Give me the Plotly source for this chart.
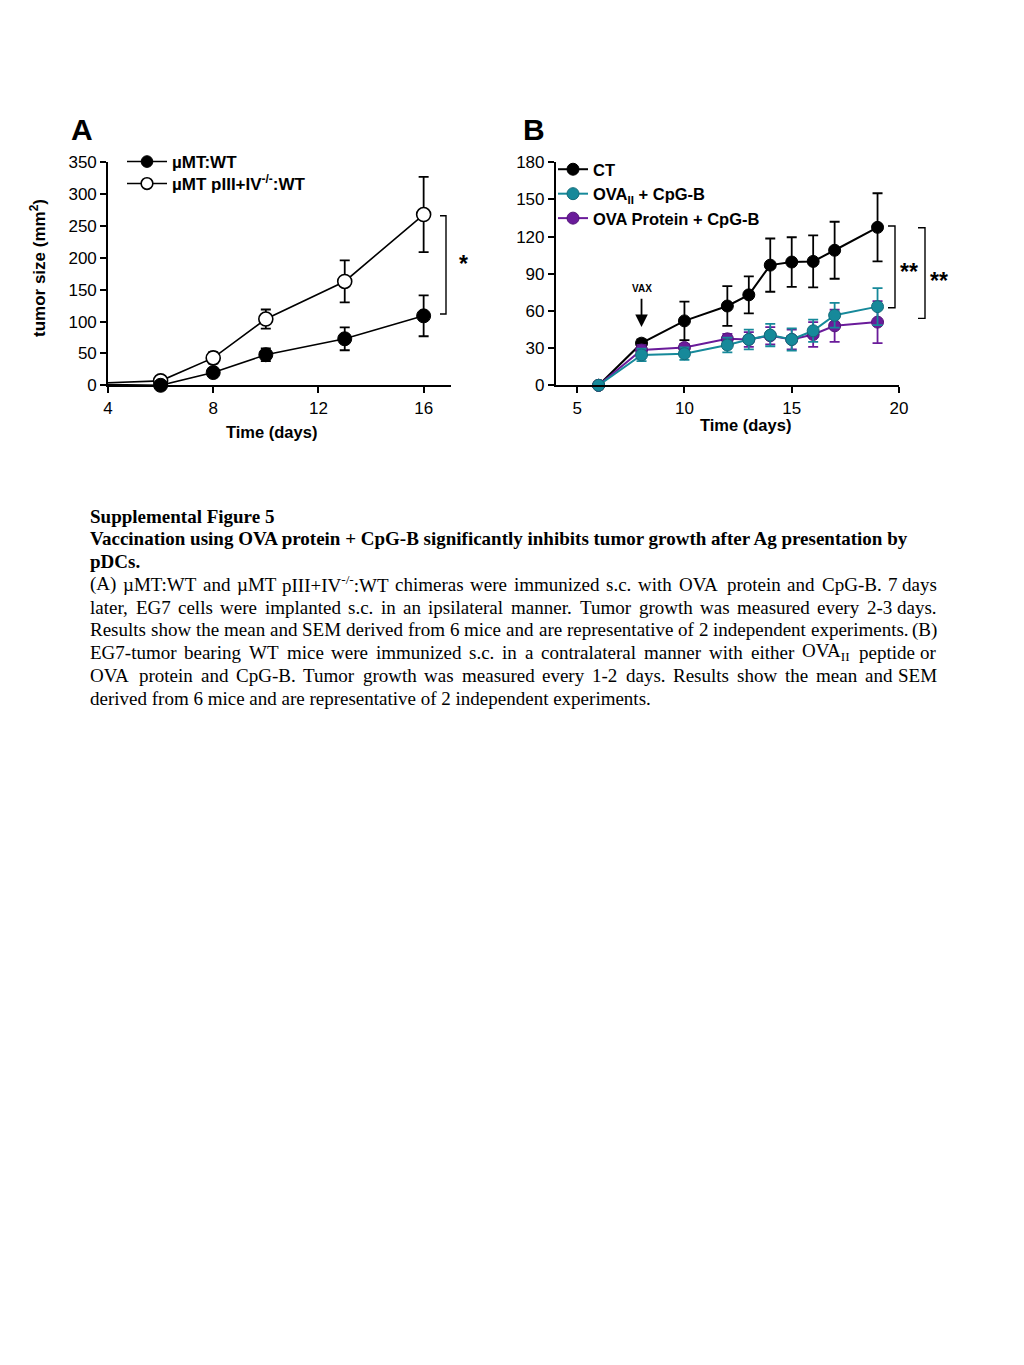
import plotly.graph_objects as go

# the page places the figure 8 px from the top-left corner
OFF = 8
W, H = 1024 - OFF, 1365 - OFF

# ---------------- Panel A data ----------------
a_days = [4, 6, 8, 10, 13, 16]
a_wt = [1, 0, 20, 48, 73, 109]
a_wt_err = [0, 2, 3, 10, 18, 32]
a_ko = [4, 7, 43, 104, 163, 268]
a_ko_err = [0, 3, 9, 15, 33, 59]
a_xticks = [4, 8, 12, 16]
a_yticks = [0, 50, 100, 150, 200, 250, 300, 350]

# ---------------- Panel B data ----------------
b_days = [6, 8, 10, 12, 13, 14, 15, 16, 17, 19]
b_ct = [0, 34, 52, 64, 73, 97, 99.5, 100, 109, 127.5]
b_ct_err = [0, 3, 15.5, 16, 15, 21.5, 20, 21, 23, 27.5]
b_ova2 = [0, 24.5, 25.5, 32.5, 37, 40.5, 37, 44, 56.5, 63.5]
b_ova2_err = [0, 5, 5, 6, 8, 9, 9, 9, 10, 15]
b_prot = [0, 28.5, 30.5, 37.5, 37, 40, 37, 41, 48, 51]
b_prot_err = [0, 4, 3, 4, 6, 7, 8, 10, 13, 17]
b_xticks = [5, 10, 15, 20]
b_yticks = [0, 30, 60, 90, 120, 150, 180]

TEAL = "#16899a"
TEAL_D = "#136c7a"
PURPLE = "#6a1b9a"
PURPLE_D = "#521478"

SANS = "Liberation Sans, Arial, sans-serif"
SERIF = "Liberation Serif, Times New Roman, serif"

fig = go.Figure()


def px_x(p):
    return (p - OFF) / W


def px_y(p):
    return 1 - (p - OFF) / H


def err_trace(x, y, err, color, xa, ya):
    # error bars drawn first so that the markers sit on top of them
    return go.Scatter(x=x, y=y, mode="markers", marker=dict(size=0.1, color=color, opacity=1),
                      error_y=dict(type="data", array=err, color=color, thickness=1.8, width=5),
                      xaxis=xa, yaxis=ya, showlegend=False, hoverinfo="skip", cliponaxis=False)


# ---------------- Panel A ----------------
fig.add_trace(err_trace(a_days[1:], a_ko[1:], a_ko_err[1:], "black", "x", "y"))
fig.add_trace(err_trace(a_days[1:], a_wt[1:], a_wt_err[1:], "black", "x", "y"))
a_sizes = [0] + [14] * (len(a_days) - 1)
fig.add_trace(go.Scatter(
    x=a_days, y=a_ko, mode="lines+markers", name="<b>µMT pIII+IV<sup>-/-</sup>:WT</b>",
    line=dict(color="black", width=1.6),
    marker=dict(size=a_sizes, color="white", opacity=1, line=dict(color="black", width=1.6)),
    xaxis="x", yaxis="y", legend="legend3", cliponaxis=False,
))
fig.add_trace(go.Scatter(
    x=a_days, y=a_wt, mode="lines+markers", name="<b>µMT:WT</b>",
    line=dict(color="black", width=1.6),
    marker=dict(size=a_sizes, color="black", opacity=1, line=dict(color="black", width=1)),
    xaxis="x", yaxis="y", legend="legend", cliponaxis=False,
))

# ---------------- Panel B ----------------
fig.add_trace(err_trace(b_days, b_ct, b_ct_err, "black", "x2", "y2"))
fig.add_trace(go.Scatter(
    x=b_days, y=b_ct, mode="lines+markers", name="<b>CT</b>",
    line=dict(color="black", width=2),
    marker=dict(size=12, color="black", opacity=1, line=dict(color="black", width=1)),
    xaxis="x2", yaxis="y2", legend="legend2", legendrank=1, cliponaxis=False,
))
fig.add_trace(err_trace(b_days, b_prot, b_prot_err, PURPLE, "x2", "y2"))
fig.add_trace(go.Scatter(
    x=b_days, y=b_prot, mode="lines+markers", name="<b>OVA Protein + CpG-B</b>",
    line=dict(color=PURPLE, width=2),
    marker=dict(size=12, color=PURPLE, opacity=1, line=dict(color=PURPLE_D, width=1)),
    xaxis="x2", yaxis="y2", legend="legend2", legendrank=3, cliponaxis=False,
))
fig.add_trace(err_trace(b_days, b_ova2, b_ova2_err, TEAL, "x2", "y2"))
fig.add_trace(go.Scatter(
    x=b_days, y=b_ova2, mode="lines+markers", name="<b>OVA<sub>II</sub> + CpG-B</b>",
    line=dict(color=TEAL, width=2),
    marker=dict(size=12, color=TEAL, opacity=1, line=dict(color=TEAL_D, width=1)),
    xaxis="x2", yaxis="y2", legend="legend2", legendrank=2, cliponaxis=False,
))

ax_font = dict(family=SANS, size=17, color="black")
common_axis = dict(showgrid=False, zeroline=False, showline=True, linecolor="black",
                   linewidth=1.6, ticks="outside", ticklen=6, tickwidth=1.6,
                   tickcolor="black", tickfont=ax_font, automargin=False)

y_dom = [px_y(385.3), px_y(162.3)]
leg_a = dict(xanchor="left", yanchor="middle", bgcolor="rgba(0,0,0,0)",
             font=dict(family=SANS, size=17, color="black"), itemwidth=40)

fig.update_layout(
    template="none",
    width=W, height=H,
    margin=dict(l=0, r=0, t=0, b=0, pad=0, autoexpand=False),
    paper_bgcolor="white", plot_bgcolor="white",
    font=dict(family=SANS, color="black"),
    xaxis=dict(domain=[px_x(108), px_x(451)], range=[4, 17.04], tickvals=a_xticks,
               anchor="y", **common_axis),
    yaxis=dict(domain=y_dom, range=[0, 350], tickvals=a_yticks, anchor="x", **common_axis),
    xaxis2=dict(domain=[px_x(555.7), px_x(899)], range=[4, 20], tickvals=b_xticks,
                anchor="y2", **common_axis),
    yaxis2=dict(domain=y_dom, range=[0, 180], tickvals=b_yticks, anchor="x2", **common_axis),
    legend=dict(x=px_x(122), y=px_y(162), **leg_a),
    legend3=dict(x=px_x(122), y=px_y(184), **leg_a),
    legend2=dict(x=px_x(553), y=px_y(152), xanchor="left", yanchor="top",
                 bgcolor="rgba(0,0,0,0)", font=dict(family=SANS, size=16.5, color="black"),
                 itemwidth=30, tracegroupgap=0, traceorder="normal"),
    showlegend=True,
)


def txt(text, x, y, size, **kw):
    d = dict(text=text, x=px_x(x), y=px_y(y), xref="paper", yref="paper",
             xanchor="center", yanchor="middle", showarrow=False,
             font=dict(family=SANS, size=size, color="black"))
    d.update(kw)
    return d


ann = []
ann.append(txt("<b>A</b>", 82, 129, 30))
ann.append(txt("<b>B</b>", 534, 129, 30))
ann.append(txt("<b>Time (days)</b>", 271, 432, 16.5))
ann.append(txt("<b>Time (days)</b>", 745, 425, 16.5))
ann.append(txt("<b>tumor size (mm<sup>2</sup>)</b>", 38, 268, 17, textangle=-90))
ann.append(txt("<b>*</b>", 463, 264, 23))
ann.append(txt("<b>**</b>", 909, 272, 23))
ann.append(txt("<b>**</b>", 939, 281, 23))
# VAX label and arrow
ann.append(dict(text="<b>VAX</b>", x=8, y=78.5, xref="x2", yref="y2", showarrow=False,
                xanchor="center", yanchor="middle", font=dict(family=SANS, size=10, color="black")))
ann.append(dict(text="", x=8, y=47, ax=8, ay=71, xref="x2", yref="y2", axref="x2", ayref="y2",
                showarrow=True, arrowhead=2, arrowsize=1.4, arrowwidth=1.8, arrowcolor="black"))

# ---------------- caption (Times metrics for justified lines) ----------------
REG = {" ": 250, "(": 333, ")": 333, "+": 564, ",": 250, "-": 333, ".": 250, "/": 278,
       ":": 278, "µ": 500,
       "A": 722, "B": 667, "C": 667, "D": 722, "E": 611, "F": 556, "G": 722, "H": 722,
       "I": 333, "J": 389, "K": 722, "L": 611, "M": 889, "N": 722, "O": 722, "P": 556,
       "Q": 722, "R": 667, "S": 556, "T": 611, "U": 722, "V": 722, "W": 944, "X": 722,
       "Y": 722, "Z": 611,
       "a": 444, "b": 500, "c": 444, "d": 500, "e": 444, "f": 333, "g": 500, "h": 500,
       "i": 278, "j": 278, "k": 500, "l": 278, "m": 778, "n": 500, "o": 500, "p": 500,
       "q": 500, "r": 333, "s": 389, "t": 278, "u": 500, "v": 500, "w": 722, "x": 500,
       "y": 500, "z": 444}


def word_width(word, size):
    total = 0.0
    scale = 1.0
    i = 0
    while i < len(word):
        if word[i] == "<":
            j = word.index(">", i)
            tag = word[i + 1:j]
            scale = 1.0 if tag.startswith("/") else 0.7
            i = j + 1
            continue
        total += REG.get(word[i], 500) * scale
        i += 1
    return total * size / 1000.0


CAP_SIZE = 19
CAP_LEFT, CAP_RIGHT = 89, 938

cap_plain = [
    ("<b>Supplemental Figure 5</b>", 516),
    ("<b>Vaccination using OVA protein + CpG-B significantly inhibits tumor growth after Ag presentation by</b>", 538),
    ("<b>pDCs.</b>", 561),
    ("derived from 6 mice and are representative of 2 independent experiments.", 698),
]
cap_justified = [
    ("(A) µMT:WT and µMT pIII+IV<sup>-/-</sup>:WT chimeras were immunized s.c. with OVA protein and CpG-B. 7 days", 584),
    ("later, EG7 cells were implanted s.c. in an ipsilateral manner. Tumor growth was measured every 2-3 days.", 607),
    ("Results show the mean and SEM derived from 6 mice and are representative of 2 independent experiments. (B)", 630),
    ("EG7-tumor bearing WT mice were immunized s.c. in a contralateral manner with either OVA<sub>II</sub> peptide or", 652),
    ("OVA protein and CpG-B. Tumor growth was measured every 1-2 days. Results show the mean and SEM", 675),
]
cap_font = dict(family=SERIF, size=CAP_SIZE, color="black")

for text, yy in cap_plain:
    ann.append(dict(text=text, x=px_x(CAP_LEFT), y=px_y(yy), xref="paper", yref="paper",
                    xanchor="left", yanchor="middle", showarrow=False, font=cap_font,
                    borderpad=0))

for text, yy in cap_justified:
    words = text.split(" ")
    widths = [word_width(w, CAP_SIZE) for w in words]
    gap = (CAP_RIGHT - CAP_LEFT - sum(widths)) / (len(words) - 1)
    xpos = CAP_LEFT
    for k, (w, wd) in enumerate(zip(words, widths)):
        last = k == len(words) - 1
        ann.append(dict(text=w, x=px_x(CAP_RIGHT if last else xpos), y=px_y(yy),
                        xref="paper", yref="paper", xanchor="right" if last else "left",
                        yanchor="middle", showarrow=False, font=cap_font, borderpad=0))
        xpos += wd + gap

fig.update_layout(annotations=ann)


# ---------------- significance brackets ----------------
def bracket(x0, x1, yv0, yv1, yref):
    return dict(type="path", xref="paper", yref=yref,
                path=f"M {px_x(x0)},{yv0} L {px_x(x1)},{yv0} L {px_x(x1)},{yv1} L {px_x(x0)},{yv1}",
                line=dict(color="black", width=1.4))


fig.update_layout(shapes=[
    bracket(440, 446, 266, 112, "y"),
    bracket(888, 895, 128.6, 62.6, "y2"),
    bracket(918, 925, 127.2, 54, "y2"),
])

fig.write_html("out.html")
